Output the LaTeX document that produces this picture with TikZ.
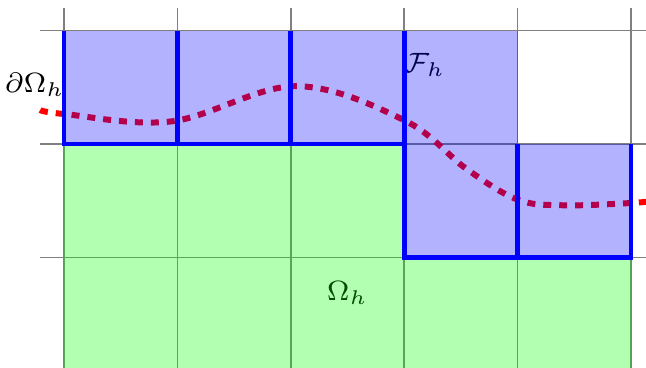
\documentclass[tikz,border=0pt]{standalone}
\usepackage{amsmath}
\usetikzlibrary{positioning}

\begin{document}
\begin{tikzpicture}[
  gridline/.style={gray, line width=0.4pt},
  inner/.style={fill=green, opacity=0.3},
  cut/.style={fill=blue, opacity=0.3},
  face/.style={blue, line width=1.2pt},
  boundary/.style={red, line width=1.5pt, dash pattern=on 2pt off 2pt},
  lbl/.style={font=\fontsize{7.5}{9}\selectfont, inner sep=1pt}
]
\clip (-0.564,-1.966) rectangle (5.132,1.270);
% background grid
\foreach \x in {0,...,5}
  \draw[gridline] (\x,1.2) -- (\x,-2.1);
\foreach \y in {1,0,-1}
  \draw[gridline] (-0.21,\y) -- (5.3,\y);
% domain boundary
\draw[boundary] plot[smooth, tension=0.6] coordinates {(-0.21,0.30) (0,0.265) (0.95,0.2)
  (2.04,0.51) (3,0.21) (3.55,-0.22) (4,-0.49) (4.4,-0.54) (5,-0.52) (5.3,-0.49)};
% labels (under the fills)
\node[lbl] (dom) at (-0.256,0.52) {$\partial\Omega_h$};
\node[lbl] (fic) at (3.18,0.70) {$\mathcal{F}_h$};
\node[lbl] (act) at (2.50,-1.31) {$\Omega_h$};
% cells
\fill[inner] (0,-2.1) rectangle (3,0);
\fill[inner] (3,-2.1) rectangle (5,-1);
\fill[cut] (0,0) rectangle (4,1);
\fill[cut] (3,-1) rectangle (5,0);
% faces
\draw[face] (0,1) -- (0,0) -- (3,0);
\draw[face] (1,1) -- (1,0);
\draw[face] (2,1) -- (2,0);
\draw[face] (3,1) -- (3,-1) -- (5,-1) -- (5,0);
\draw[face] (4,0) -- (4,-1);
\end{tikzpicture}
\end{document}
